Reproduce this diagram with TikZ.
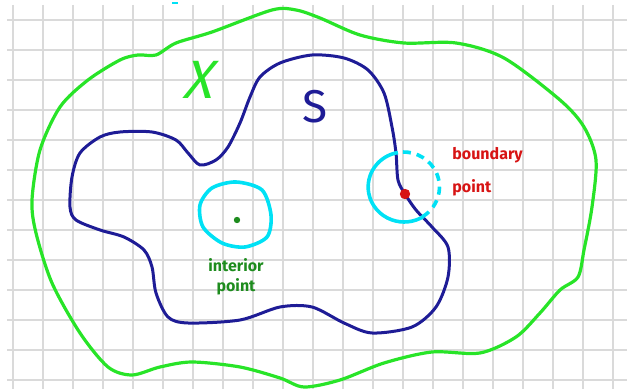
\documentclass[tikz,border=0pt]{standalone}
\usepackage{fontspec}
\setsansfont{Fira Sans}
\usepackage{tikz}
\definecolor{setgreen}{RGB}{40,228,40}
\definecolor{setblue}{RGB}{30,28,150}
\definecolor{nbhdcyan}{RGB}{0,225,245}
\definecolor{ptred}{RGB}{215,20,20}
\definecolor{ptgreen}{RGB}{30,140,30}
\definecolor{gridgray}{RGB}{218,218,218}

\begin{document}
\begin{tikzpicture}[x=0.5pt,y=-0.5pt,
  gridline/.style={draw=gridgray,line width=0.6pt},
  bigset/.style={draw=setgreen,line width=1.6pt},
  subset/.style={draw=setblue,line width=1.5pt},
  nbhd/.style={draw=nbhdcyan,line width=1.8pt},
  nbhddash/.style={nbhd,dash pattern=on 4pt off 3pt},
  setname/.style={font=\sffamily\fontsize{#1}{#1}\selectfont,inner sep=0pt},
  ptlabel/.style={font=\sffamily\bfseries\fontsize{8}{10}\selectfont,
                  align=left,inner sep=0pt}]
  \useasboundingbox (0,0) rectangle (627,389);
  % grid paper
  \foreach \gx in {13,43,...,613}
    \draw[gridline] (\gx,5) -- (\gx,389);
  \foreach \gy in {20,50,...,380}
    \draw[gridline] (7,\gy) -- (627,\gy);
  \draw[nbhd,line width=1pt] (172,3) -- (178,3);

  % the space X
  \draw[bigset] plot[smooth cycle] coordinates {
    (138,55) (156,55) (176,43) (212,32) (272,10) (296,10) (320,18)
    (360,35) (404,43) (456,43) (504,58) (560,100) (584,127) (596,160)
    (592,207) (584,250) (578,277) (560,290) (540,313) (516,337)
    (480,353) (432,352) (384,363) (340,380) (304,387) (280,378)
    (240,367) (192,362) (160,367) (132,375) (108,367) (80,333)
    (52,283) (36,233) (32,200) (40,150) (60,107) (88,80) (120,60)};
  \node[setname=27,text=setgreen,xslant=0.25] (xname) at (202,80) {X};

  % the subset S
  \draw[subset] plot[smooth cycle] coordinates {
    (200,165) (188,153) (176,140) (152,132) (120,132) (100,137)
    (80,153) (72,177) (70,207) (76,220) (100,230) (124,237) (144,250)
    (152,267) (156,293) (168,317) (188,323) (240,320) (280,307)
    (312,307) (344,323) (372,333) (412,327) (436,307) (448,277)
    (448,247) (432,227) (416,210) (405,194) (398,180) (396,153)
    (392,127) (384,93) (368,70) (344,58) (312,55) (280,63) (260,77)
    (250,97) (240,123) (228,147) (216,160)};
  \node[setname=23,text=setblue] (sname) at (315,107) {S};

  % interior point
  \coordinate (inpt) at (237,220);
  \draw[nbhd] plot[smooth cycle] coordinates {
    (236,182) (262,190) (271,215) (267,237) (245,247) (222,243)
    (203,227) (200,205) (212,188)};
  \fill[ptgreen] (inpt) circle[radius=1.6pt];
  \node[ptlabel,text=ptgreen,align=center] (inlbl) at (236,277)
    {interior\\point};

  % boundary point
  \coordinate (bdpt) at (405,194);
  \coordinate (bdc) at (404,187);
  \draw[nbhd] (bdc) ++(-100:35) arc[start angle=-100,end angle=-302,
    x radius=36,y radius=35];
  \draw[nbhddash] (bdc) ++(-302:35) arc[start angle=58,end angle=-100,
    x radius=36,y radius=35];
  \fill[ptred] (bdpt) circle[radius=2.6pt];
  \node[ptlabel,text=ptred,font=\sffamily\bfseries\fontsize{8}{16.5}\selectfont,
        anchor=west] (bdlbl) at (452,172) {boundary\\point};
\end{tikzpicture}
\end{document}
